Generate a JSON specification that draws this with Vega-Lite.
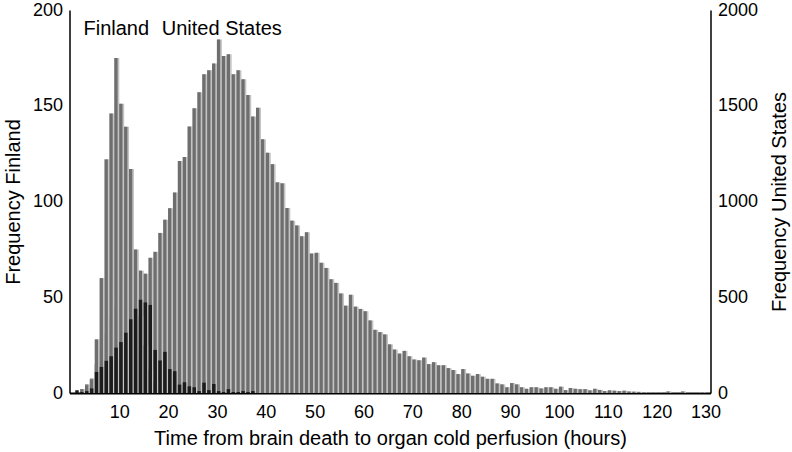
{
  "$schema": "https://vega.github.io/schema/vega-lite/v6.json",
  "width": 641,
  "height": 383,
  "autosize": {"type": "none"},
  "padding": {"left": 69.5, "top": 10, "right": 81.5, "bottom": 59},
  "config": {
    "view": {"stroke": null},
    "font": "Liberation Sans",
    "axis": {"labelFont": "Liberation Sans", "titleFont": "Liberation Sans", "labelColor": "black", "titleColor": "black", "domainColor": "black", "ticks": false, "grid": false, "titleFontWeight": "normal", "labelFlush": false, "labelOverlap": false}
  },
  "datasets": {
    "us": [
      {"hour": 2, "freq": 20}, {"hour": 3, "freq": 45}, {"hour": 4, "freq": 75}, {"hour": 5, "freq": 150},
      {"hour": 6, "freq": 230}, {"hour": 7, "freq": 310}, {"hour": 8, "freq": 390}, {"hour": 9, "freq": 450},
      {"hour": 10, "freq": 510}, {"hour": 11, "freq": 560}, {"hour": 12, "freq": 600}, {"hour": 13, "freq": 620},
      {"hour": 14, "freq": 639}, {"hour": 15, "freq": 623}, {"hour": 16, "freq": 706}, {"hour": 17, "freq": 737},
      {"hour": 18, "freq": 836}, {"hour": 19, "freq": 905}, {"hour": 20, "freq": 965}, {"hour": 21, "freq": 1047},
      {"hour": 22, "freq": 1211}, {"hour": 23, "freq": 1233}, {"hour": 24, "freq": 1392}, {"hour": 25, "freq": 1487},
      {"hour": 26, "freq": 1570}, {"hour": 27, "freq": 1665}, {"hour": 28, "freq": 1686}, {"hour": 29, "freq": 1720},
      {"hour": 30, "freq": 1846}, {"hour": 31, "freq": 1760}, {"hour": 32, "freq": 1769}, {"hour": 33, "freq": 1665},
      {"hour": 34, "freq": 1686}, {"hour": 35, "freq": 1639}, {"hour": 36, "freq": 1556}, {"hour": 37, "freq": 1444},
      {"hour": 38, "freq": 1489}, {"hour": 39, "freq": 1325}, {"hour": 40, "freq": 1255}, {"hour": 41, "freq": 1195},
      {"hour": 42, "freq": 1100}, {"hour": 43, "freq": 1095}, {"hour": 44, "freq": 966}, {"hour": 45, "freq": 900},
      {"hour": 46, "freq": 875}, {"hour": 47, "freq": 818}, {"hour": 48, "freq": 840}, {"hour": 49, "freq": 728},
      {"hour": 50, "freq": 732}, {"hour": 51, "freq": 680}, {"hour": 52, "freq": 653}, {"hour": 53, "freq": 594},
      {"hour": 54, "freq": 575}, {"hour": 55, "freq": 520}, {"hour": 56, "freq": 456}, {"hour": 57, "freq": 513},
      {"hour": 58, "freq": 451}, {"hour": 59, "freq": 439}, {"hour": 60, "freq": 427}, {"hour": 61, "freq": 379},
      {"hour": 62, "freq": 330}, {"hour": 63, "freq": 318}, {"hour": 64, "freq": 306}, {"hour": 65, "freq": 254},
      {"hour": 66, "freq": 227}, {"hour": 67, "freq": 206}, {"hour": 68, "freq": 220}, {"hour": 69, "freq": 192},
      {"hour": 70, "freq": 175}, {"hour": 71, "freq": 171}, {"hour": 72, "freq": 185}, {"hour": 73, "freq": 151},
      {"hour": 74, "freq": 161}, {"hour": 75, "freq": 145}, {"hour": 76, "freq": 145}, {"hour": 77, "freq": 130},
      {"hour": 78, "freq": 120}, {"hour": 79, "freq": 99}, {"hour": 80, "freq": 125}, {"hour": 81, "freq": 102},
      {"hour": 82, "freq": 90}, {"hour": 83, "freq": 99}, {"hour": 84, "freq": 85}, {"hour": 85, "freq": 74},
      {"hour": 86, "freq": 74}, {"hour": 87, "freq": 50}, {"hour": 88, "freq": 45}, {"hour": 89, "freq": 30},
      {"hour": 90, "freq": 52}, {"hour": 91, "freq": 45}, {"hour": 92, "freq": 30}, {"hour": 93, "freq": 22},
      {"hour": 94, "freq": 30}, {"hour": 95, "freq": 30}, {"hour": 96, "freq": 24}, {"hour": 97, "freq": 30},
      {"hour": 98, "freq": 30}, {"hour": 99, "freq": 22}, {"hour": 100, "freq": 33}, {"hour": 101, "freq": 15},
      {"hour": 102, "freq": 26}, {"hour": 103, "freq": 22}, {"hour": 104, "freq": 20}, {"hour": 105, "freq": 20},
      {"hour": 106, "freq": 14}, {"hour": 107, "freq": 22}, {"hour": 108, "freq": 16}, {"hour": 109, "freq": 10},
      {"hour": 110, "freq": 14}, {"hour": 111, "freq": 12}, {"hour": 112, "freq": 10}, {"hour": 113, "freq": 12},
      {"hour": 114, "freq": 8}, {"hour": 115, "freq": 7}, {"hour": 116, "freq": 6}, {"hour": 117, "freq": 3},
      {"hour": 118, "freq": 2}, {"hour": 119, "freq": 2}, {"hour": 120, "freq": 2}, {"hour": 121, "freq": 1},
      {"hour": 122, "freq": 8}, {"hour": 123, "freq": 1}, {"hour": 124, "freq": 1}, {"hour": 125, "freq": 8},
      {"hour": 126, "freq": 1}, {"hour": 127, "freq": 1}, {"hour": 128, "freq": 2}, {"hour": 129, "freq": 3}
    ],
    "finland": [
      {"hour": 2, "freq": 2}, {"hour": 3, "freq": 4}, {"hour": 4, "freq": 7}, {"hour": 5, "freq": 28},
      {"hour": 6, "freq": 60}, {"hour": 7, "freq": 122}, {"hour": 8, "freq": 146}, {"hour": 9, "freq": 175},
      {"hour": 10, "freq": 151}, {"hour": 11, "freq": 139}, {"hour": 12, "freq": 117}, {"hour": 13, "freq": 75},
      {"hour": 14, "freq": 40}, {"hour": 15, "freq": 25}, {"hour": 16, "freq": 12}, {"hour": 17, "freq": 6}
    ],
    "dark": [
      {"hour": 1, "freq": 1.5}, {"hour": 2, "freq": 0.5}, {"hour": 3, "freq": 1}, {"hour": 4, "freq": 2.4},
      {"hour": 5, "freq": 11}, {"hour": 6, "freq": 13.6}, {"hour": 7, "freq": 16.8}, {"hour": 8, "freq": 19.2},
      {"hour": 9, "freq": 23.7}, {"hour": 10, "freq": 26.6}, {"hour": 11, "freq": 31.5}, {"hour": 12, "freq": 38.5},
      {"hour": 13, "freq": 44}, {"hour": 14, "freq": 48.7}, {"hour": 15, "freq": 47.3}, {"hour": 16, "freq": 46},
      {"hour": 17, "freq": 22.5}, {"hour": 18, "freq": 17}, {"hour": 19, "freq": 21.5}, {"hour": 20, "freq": 12.5},
      {"hour": 21, "freq": 11.4}, {"hour": 22, "freq": 4.4}, {"hour": 23, "freq": 5.6}, {"hour": 24, "freq": 3.5},
      {"hour": 25, "freq": 3}, {"hour": 26, "freq": 1}, {"hour": 27, "freq": 5.4}, {"hour": 28, "freq": 1.5},
      {"hour": 29, "freq": 4.7}, {"hour": 30, "freq": 1}, {"hour": 31, "freq": 0.5}, {"hour": 32, "freq": 2},
      {"hour": 33, "freq": 0.5}, {"hour": 34, "freq": 0.5}, {"hour": 35, "freq": 1}, {"hour": 36, "freq": 0.5},
      {"hour": 37, "freq": 1}
    ],
    "labels": [
      {"hour": 9.4, "freq": 187, "label": "Finland"},
      {"hour": 31.0, "freq": 187, "label": "United States"}
    ]
  },
  "encoding": {
    "x": {
      "field": "hour", "type": "quantitative",
      "scale": {"domain": [0.85, 130], "nice": false, "zero": false},
      "axis": {
        "values": [10, 20, 30, 40, 50, 60, 70, 80, 90, 100, 110, 120, 130],
        "labelFontSize": 18, "labelPadding": 10, "domainWidth": 2,
        "title": "Time from brain death to organ cold perfusion (hours)",
        "titleFontSize": 20, "titlePadding": 7
      }
    }
  },
  "layer": [
    {
      "data": {"name": "us"},
      "encoding": {
        "y": {
          "field": "freq", "type": "quantitative",
          "scale": {"domain": [0, 2000], "nice": false},
          "axis": {"orient": "right", "values": [0, 500, 1000, 1500, 2000], "format": "d", "labelFontSize": 18, "labelPadding": 7, "domainWidth": 1.5, "title": "Frequency United States", "titleFontSize": 20, "titleAngle": 270, "titlePadding": 32}
        }
      },
      "layer": [
        {"mark": {"type": "bar", "width": 5, "xOffset": 2.48, "color": "#c4c4c4"}},
        {"mark": {"type": "bar", "width": 3.3, "xOffset": 1.65, "color": "#6e6e6e"}}
      ]
    },
    {
      "encoding": {
        "y": {
          "field": "freq", "type": "quantitative",
          "scale": {"domain": [0, 200], "nice": false},
          "axis": {"orient": "left", "values": [0, 50, 100, 150, 200], "labelFontSize": 18, "labelPadding": 7, "domainWidth": 1.5, "title": "Frequency Finland", "titleFontSize": 20, "titlePadding": 9}
        }
      },
      "layer": [
        {"data": {"name": "finland"}, "mark": {"type": "bar", "width": 5, "xOffset": 2.48, "color": "#c4c4c4"}},
        {"data": {"name": "finland"}, "mark": {"type": "bar", "width": 3.3, "xOffset": 1.65, "color": "#6e6e6e"}},
        {"data": {"name": "dark"}, "mark": {"type": "bar", "width": 3.5, "xOffset": 1.75, "color": "#1c1c1c"}},
        {"data": {"name": "labels"}, "mark": {"type": "text", "fontSize": 20, "color": "black", "baseline": "alphabetic", "align": "center"}, "encoding": {"text": {"field": "label"}}}
      ]
    }
  ],
  "resolve": {"scale": {"y": "independent"}}
}
